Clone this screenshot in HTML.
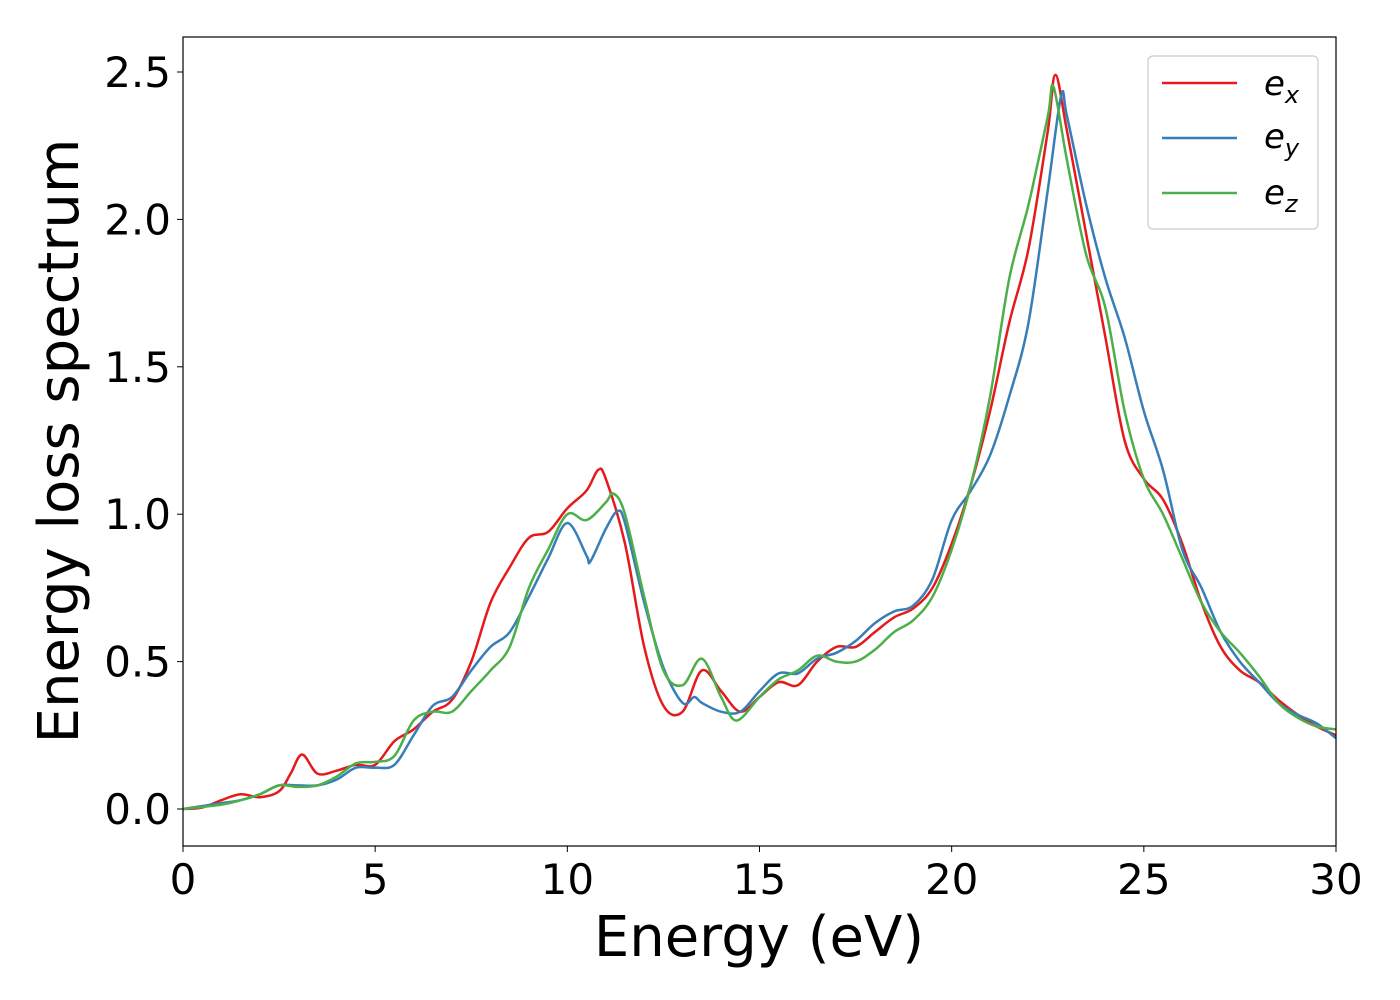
<!DOCTYPE html>
<html><head><meta charset="utf-8">
<style>
html,body{margin:0;padding:0;background:#fff;}
svg{display:block;font-family:"DejaVu Sans","Liberation Sans",sans-serif;}
</style></head>
<body>
<svg id="chart" width="1400" height="1000" viewBox="0 0 1400 1000" xmlns="http://www.w3.org/2000/svg">
<g id="series"></g>
<rect x="183" y="37" width="1153" height="809" fill="none" stroke="#000" stroke-width="1.2"/>
<g id="xticks"></g>
<g id="yticks"></g>
<text x="759" y="956" font-size="56" text-anchor="middle">Energy (eV)</text>
<text transform="translate(78,441) rotate(-90)" font-size="56" text-anchor="middle">Energy loss spectrum</text>
<g>
<rect x="1148" y="56" width="170" height="173" rx="5" fill="#fff" stroke="#ccc" stroke-width="1.2"/>
<g><line x1="1162" y1="83" x2="1237" y2="83" stroke="#e41a1c" stroke-width="2.5"/><text x="1264" y="95" font-size="34" font-style="italic">e<tspan font-size="24" dy="8">x</tspan></text></g>
<g><line x1="1162" y1="138" x2="1237" y2="138" stroke="#377eb8" stroke-width="2.5"/><text x="1264" y="148" font-size="34" font-style="italic">e<tspan font-size="24" dy="8">y</tspan></text></g>
<g><line x1="1162" y1="193" x2="1237" y2="193" stroke="#4daf4a" stroke-width="2.5"/><text x="1264" y="204" font-size="34" font-style="italic">e<tspan font-size="24" dy="8">z</tspan></text></g>
</g>
</svg>
<script>
const xTickLabels=[0,5,10,15,20,25,30];
const yTickLabels=["0.0","0.5","1.0","1.5","2.0","2.5"];
const exE=[0,0.5,1,1.5,2,2.5,2.8,3.1,3.5,4,4.5,5,5.5,6,6.5,7,7.5,8,8.5,9,9.5,10,10.5,10.8,11,11.5,12,12.5,13,13.5,14,14.5,15,15.5,16,16.5,17,17.5,18,18.5,19,19.5,20,20.5,21,21.5,22,22.5,22.7,23,23.5,24,24.5,25,25.5,26,26.5,27,27.5,28,28.5,29,29.5,30];
const exV=[0,0.005,0.03,0.05,0.04,0.06,0.12,0.185,0.12,0.13,0.15,0.15,0.23,0.27,0.33,0.37,0.5,0.7,0.82,0.92,0.94,1.02,1.08,1.15,1.12,0.9,0.55,0.35,0.33,0.47,0.4,0.33,0.38,0.43,0.42,0.5,0.55,0.55,0.6,0.65,0.68,0.75,0.9,1.1,1.35,1.65,1.9,2.3,2.49,2.3,1.95,1.6,1.25,1.12,1.05,0.9,0.7,0.55,0.47,0.43,0.37,0.32,0.28,0.25];
const eyE=[0,1,1.5,2,2.5,3,3.5,4,4.5,5,5.5,6,6.5,7,7.5,8,8.5,9,9.5,10,10.5,10.6,11,11.3,11.5,12,12.5,13,13.3,13.5,14,14.5,15,15.5,16,16.5,17,17.5,18,18.5,19,19.5,20,20.5,21,21.5,22,22.5,22.85,23,23.5,24,24.5,25,25.5,26,26.5,27,27.5,28,28.5,29,29.5,30];
const eyV=[0,0.02,0.03,0.05,0.08,0.08,0.08,0.1,0.14,0.14,0.15,0.25,0.35,0.38,0.47,0.55,0.6,0.72,0.85,0.97,0.86,0.84,0.95,1.01,0.97,0.7,0.48,0.36,0.38,0.36,0.33,0.33,0.4,0.46,0.46,0.51,0.53,0.57,0.63,0.67,0.69,0.78,0.98,1.08,1.2,1.4,1.65,2.1,2.42,2.35,2.05,1.8,1.6,1.35,1.15,0.88,0.75,0.6,0.5,0.43,0.36,0.32,0.29,0.24];
const ezE=[0,1,1.5,2,2.5,3,3.5,4,4.5,5,5.5,6,6.5,7,7.5,8,8.5,9,9.5,10,10.5,11,11.2,11.5,12,12.5,13,13.5,14,14.4,15,15.5,16,16.5,17,17.5,18,18.5,19,19.5,20,20.5,21,21.5,22,22.5,22.65,23,23.5,24,24.5,25,25.5,26,26.5,27,27.5,28,28.5,29,29.5,30];
const ezV=[0,0.015,0.03,0.05,0.08,0.075,0.08,0.11,0.155,0.16,0.18,0.3,0.33,0.33,0.4,0.47,0.55,0.75,0.88,1.0,0.98,1.04,1.07,1.0,0.72,0.47,0.42,0.51,0.38,0.3,0.38,0.44,0.47,0.52,0.5,0.5,0.54,0.6,0.64,0.72,0.88,1.1,1.4,1.8,2.05,2.35,2.45,2.2,1.88,1.7,1.35,1.12,1.0,0.85,0.7,0.6,0.53,0.45,0.36,0.31,0.28,0.27];

const NS="http://www.w3.org/2000/svg";
const X0=183,X1=1336,Y0=809,Y25=72;
function xs(v){return X0+(X1-X0)*v/30;}
function ys(v){return Y0-(Y0-Y25)*v/2.5;}
function pathFor(xa,va){
  const p=xa.map((x,i)=>[xs(x),ys(va[i])]);
  let d="M"+p[0][0].toFixed(1)+","+p[0][1].toFixed(1);
  for(let i=0;i<p.length-1;i++){
    const a=p[Math.max(0,i-1)],b=p[i],c=p[i+1],e=p[Math.min(p.length-1,i+2)];
    const c1=[b[0]+(c[0]-a[0])/6,b[1]+(c[1]-a[1])/6];
    const c2=[c[0]-(e[0]-b[0])/6,c[1]-(e[1]-b[1])/6];
    d+=" C"+c1[0].toFixed(1)+","+c1[1].toFixed(1)+" "+c2[0].toFixed(1)+","+c2[1].toFixed(1)+" "+c[0].toFixed(1)+","+c[1].toFixed(1);
  }
  return d;
}
const sg=document.getElementById("series");
[["line-ex",exE,exV,"#e41a1c"],["line-ey",eyE,eyV,"#377eb8"],["line-ez",ezE,ezV,"#4daf4a"]].forEach(s=>{
  const el=document.createElementNS(NS,"path");
  el.setAttribute("d",pathFor(s[1],s[2]));
  el.setAttribute("fill","none");
  el.setAttribute("stroke",s[3]);
  el.setAttribute("stroke-width","2.5");
  
  
  sg.appendChild(el);
});
const xg=document.getElementById("xticks");
xTickLabels.forEach(v=>{
  const l=document.createElementNS(NS,"line");
  l.setAttribute("x1",xs(v));l.setAttribute("x2",xs(v));
  l.setAttribute("y1",846);l.setAttribute("y2",852);
  l.setAttribute("stroke","#000");
  
  
  xg.appendChild(l);
  const t=document.createElementNS(NS,"text");
  t.setAttribute("x",xs(v));t.setAttribute("y",894);
  t.setAttribute("font-size","42");t.setAttribute("text-anchor","middle");
  t.textContent=v;
  
  
  xg.appendChild(t);
});
const yg=document.getElementById("yticks");
yTickLabels.forEach(s=>{
  const v=parseFloat(s);
  const l=document.createElementNS(NS,"line");
  l.setAttribute("x1",177);l.setAttribute("x2",183);
  l.setAttribute("y1",ys(v));l.setAttribute("y2",ys(v));
  l.setAttribute("stroke","#000");
  
  
  yg.appendChild(l);
  const t=document.createElementNS(NS,"text");
  t.setAttribute("x",171);t.setAttribute("y",ys(v)+15);
  t.setAttribute("font-size","42");t.setAttribute("text-anchor","end");
  t.textContent=s;
  
  
  yg.appendChild(t);
});
</script>
</body></html>
